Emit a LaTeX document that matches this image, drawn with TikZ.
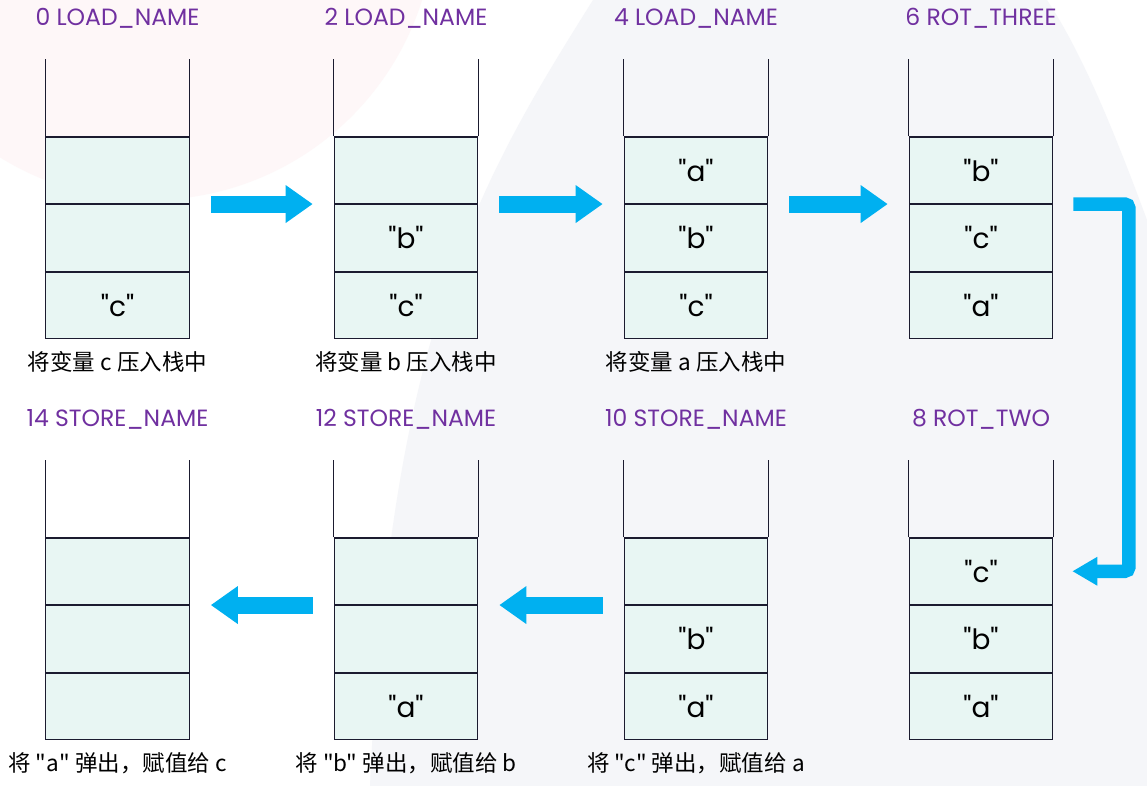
\documentclass[tikz,border=0pt]{standalone}
\usepackage{fontspec}
\newfontfamily\cjkfont{Noto Sans CJK SC}
\newfontfamily\opfont{Poppins}
\usepackage{xcolor}
\usetikzlibrary{arrows.meta,positioning,calc}
\definecolor{cellfill}{HTML}{E8F6F3}
\definecolor{opviolet}{HTML}{7030A0}
\definecolor{flowblue}{HTML}{00B0F0}
\definecolor{bgpink}{HTML}{FEF7F8}
\definecolor{bggrey}{HTML}{F5F6F9}
\definecolor{edgeink}{HTML}{1B1B2F}
\tikzset{
  cell/.style     = {draw=edgeink, fill=cellfill, line width=1.1pt,
                     minimum width=143.5pt, minimum height=66.5pt, inner sep=0pt,
                     font=\opfont\fontsize{28}{28}\selectfont},
  wall/.style     = {draw=edgeink, line width=1.1pt},
  optitle/.style  = {text=opviolet, anchor=base, font=\opfont\fontsize{23.5}{24}\selectfont},
  note/.style     = {font=\cjkfont\fontsize{22.5}{23}\selectfont},
  flow/.style     = {-{Triangle[length=27pt,width=36pt]}, line width=17pt, flowblue,
                     shorten >=21pt, shorten <=21pt},
  bentflow/.style = {-{Triangle[length=25pt,width=27pt]}, line width=13.5pt, flowblue,
                     rounded corners=4pt},
}
\begin{document}
\begin{tikzpicture}[x=1pt,y=-1pt]
\useasboundingbox (0,0) rectangle (1147,786);
\begin{scope}
  \clip (0,0) rectangle (1147,786);
  \fill[white] (0,0) rectangle (1147,786);
  \fill[bgpink] (150,-85) circle (285);
  \fill[bggrey] (593,0) .. controls (480,180) and (390,330) .. (370,786)
    -- (1147,786) -- (1147,220) .. controls (1110,120) and (1080,50) .. (1047,0) -- cycle;
\end{scope}
\foreach \n/\x/\y/\p/\q/\r/\op/\msg in {
  0/117.5/60/{}/{}/{"c"}/{0 LOAD\_NAME}/{将变量 c 压入栈中},
  2/406/60/{}/{"b"}/{"c"}/{2 LOAD\_NAME}/{将变量 b 压入栈中},
  4/696/60/{"a"}/{"b"}/{"c"}/{4 LOAD\_NAME}/{将变量 a 压入栈中},
  6/981/60/{"b"}/{"c"}/{"a"}/{6 ROT\_THREE}/{},
  8/981/461/{"c"}/{"b"}/{"a"}/{8 ROT\_TWO}/{},
  10/696/461/{}/{"b"}/{"a"}/{10 STORE\_NAME}/{将 "c" 弹出，赋值给 a},
  12/406/461/{}/{}/{"a"}/{12 STORE\_NAME}/{将 "b" 弹出，赋值给 b},
  14/117.5/461/{}/{}/{}/{14 STORE\_NAME}/{将 "a" 弹出，赋值给 c}}
{
  \node[optitle] (t\n) at (\x,\y-34.5) {\op};
  \node[cell] (s\n-c1) at (\x,\y+110.25) {\p};
  \node[cell, below=0pt of s\n-c1] (s\n-c2) {\q};
  \node[cell, below=0pt of s\n-c2] (s\n-c3) {\r};
  \draw[wall] (s\n-c1.north west) -- ++(0,-77);
  \draw[wall] (s\n-c1.north east) -- ++(0,-77);
  \node[note] (m\n) at (\x,\y+302) {\msg};
}
\draw[flow] (s0-c1.south east) -- (s2-c1.south west);
\draw[flow] (s2-c1.south east) -- (s4-c1.south west);
\draw[flow] (s4-c1.south east) -- (s6-c1.south west);
\draw[bentflow] ([xshift=20pt]s6-c1.south east) -- ++(55.5,0) |- ([xshift=19pt]s8-c1.east);
\draw[flow] (s10-c1.south west) -- (s12-c1.south east);
\draw[flow] (s12-c1.south west) -- (s14-c1.south east);
\end{tikzpicture}
\end{document}
